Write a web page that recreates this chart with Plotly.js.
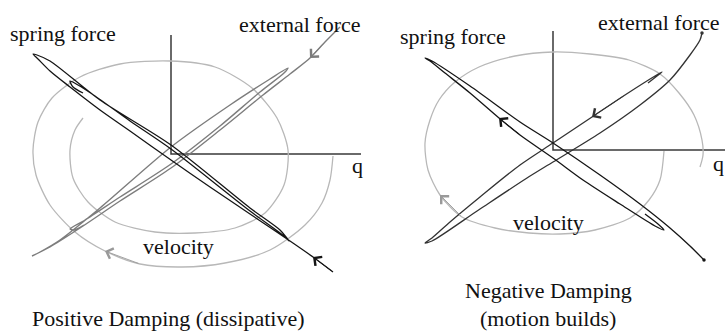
<!DOCTYPE html>
<html>
<head>
<meta charset="utf-8">
<script src="https://cdn.plot.ly/plotly-3.0.1.min.js"></script>
<style>
  html, body { margin: 0; padding: 0; background: #fff; }
  #chart { width: 725px; height: 332px; }
</style>
</head>
<body>
<div id="chart"></div>
<script>
// Phase-plane sketches of a forced oscillator. Units are measured from each
// panel's origin (q to the right, up is positive).

// ---- Positive damping (left panel) ----
// velocity: spiral that winds inward
const posVelocityQ = [162, 159, 151, 134, 99, 54, 11, -31, -66, -96, -121, -135, -138, -133, -119, -91, -51, -1, 44, 81, 106, 117, 113, 94, 64, 24, -16, -56, -83, -98, -101, -96, -88];
const posVelocityP = [-2, -26, -49, -71, -96, -109, -113, -110, -97, -78, -51, -21, 4, 32, 56, 77, 90, 93, 87, 66, 36, 4, -31, -59, -74, -79, -78, -68, -48, -24, 4, 24, 36];

// spring force: narrow loops along the falling diagonal
const posSpringQ = [162, 142, 119, 79, 39, 0, -41, -71, -101, -121, -133, -138, -134, -121, -71, 0, 79, 109, 118, 113, 79, 0, -41, -76, -93, -101, -98, -88];
const posSpringP = [-118, -103, -87, -60, -33, -6, 23, 44, 67, 83, 95, 100, 99, 93, 54, 9, -54, -76, -87, -82, -57, 5, 33, 58, 69, 73, 67, 61];

// external force: narrow loops along the rising diagonal
const posExternalQ = [169, 154, 139, 119, 92, 49, 0, -51, -91, -121, -139, -131, -111, -71, 0, 59, 99, 117, 113, 89, 49, 0, -51, -86, -101, -97, -87];
const posExternalP = [127, 112, 96, 80, 59, 24, -14, -47, -74, -93, -102, -98, -86, -54, 7, 49, 75, 86, 81, 62, 28, -10, -43, -66, -75, -76, -71];

// ---- Negative damping (right panel) ----
// velocity: spiral that winds outward
const negVelocityQ = [111, 107, 96, 77, 42, 7, -24, -58, -91, -113, -125, -128, -123, -114, -98, -74, -38, 0, 37, 76, 107, 126, 141, 149, 150, 147];
const negVelocityP = [-1, -30, -50, -68, -80, -84, -83, -78, -67, -45, -20, 7, 30, 50, 68, 83, 94, 98, 96, 90, 76, 57, 35, 10, -5, -17];

// spring force: loops growing along the falling diagonal
const negSpringQ = [92, 105, 111, 102, 67, 30, 0, -33, -54, -83, -108, -123, -128, -121, -83, -33, 0, 47, 87, 117, 137, 151];
const negSpringP = [-64, -74, -80, -76, -54, -30, -8, 15, 32, 57, 77, 89, 92, 89, 64, 28, 7, -25, -54, -78, -96, -110];

// external force: loops growing along the rising diagonal
const negExternalQ = [95, 104, 109, 102, 72, 39, 0, -33, -73, -103, -121, -128, -121, -73, -26, 0, 47, 87, 117, 137, 147, 149];
const negExternalP = [67, 74, 78, 74, 55, 33, 7, -15, -47, -72, -88, -93, -91, -59, -28, -12, 17, 45, 70, 95, 110, 117];

// coordinate axes drawn from each origin
const posAxisQ = [190, 0, 0];
const posAxisP = [0, 0, 119];
const negAxisQ = [172, 0, 0];
const negAxisP = [0, 0, 119];

// text
const curveLabels = ['spring force', 'external force', 'velocity', 'q'];
const panelTitles = ['Positive Damping (dissipative)', 'Negative Damping', '(motion builds)'];

const INK = '#151515';
const EXT_GRAY = '#7d7d7d';
const VEL_GRAY = '#b8b8b8';
const AXIS_INK = '#3a3a3a';

function curve(q, p, color, width, panel) {
  return {
    type: 'scatter', mode: 'lines',
    x: q, y: p,
    xaxis: panel === 2 ? 'x2' : 'x', yaxis: panel === 2 ? 'y2' : 'y',
    line: { color: color, width: width, shape: 'spline', smoothing: 0.8 }
  };
}
function axisLines(q, p, panel) {
  return {
    type: 'scatter', mode: 'lines', x: q, y: p,
    xaxis: panel === 2 ? 'x2' : 'x', yaxis: panel === 2 ? 'y2' : 'y',
    line: { color: AXIS_INK, width: 1.5 }
  };
}
function endDot(q, p, color) {
  return {
    type: 'scatter', mode: 'markers',
    x: [q[q.length - 1]], y: [p[p.length - 1]],
    xaxis: 'x2', yaxis: 'y2',
    marker: { color: color, size: 3.5 }
  };
}
// direction arrowhead placed on point i of a curve, pointing along the motion
function arrowOn(q, p, i, color, panel) {
  const xr = panel === 2 ? 'x2' : 'x', yr = panel === 2 ? 'y2' : 'y';
  return {
    x: q[i], y: p[i], ax: q[i - 1], ay: p[i - 1],
    xref: xr, yref: yr, axref: xr, ayref: yr,
    text: '', showarrow: true, arrowhead: 4, arrowsize: 2.4, arrowwidth: 0.9,
    arrowcolor: color, standoff: 0, startstandoff: 0
  };
}
// text placed by pixel position on the page
function label(text, px, py, size) {
  return {
    text: text, x: px / 725, y: 1 - py / 332, xref: 'paper', yref: 'paper',
    xanchor: 'center', yanchor: 'middle', showarrow: false,
    font: { family: 'Liberation Serif', size: size, color: '#111' }
  };
}

const data = [
  axisLines(posAxisQ, posAxisP, 1),
  curve(posVelocityQ, posVelocityP, VEL_GRAY, 1.3, 1),
  curve(posExternalQ, posExternalP, EXT_GRAY, 1.4, 1),
  curve(posSpringQ, posSpringP, INK, 1.3, 1),
  axisLines(negAxisQ, negAxisP, 2),
  curve(negVelocityQ, negVelocityP, VEL_GRAY, 1.3, 2),
  curve(negExternalQ, negExternalP, '#333', 1.3, 2),
  curve(negSpringQ, negSpringP, INK, 1.3, 2),
  endDot(negExternalQ, negExternalP, '#333'),
  endDot(negSpringQ, negSpringP, INK)
];

const annotations = [
  label(curveLabels[0], 63, 33, 22),
  label(curveLabels[1], 300, 24, 22),
  label(curveLabels[2], 178, 246, 22),
  label(curveLabels[3], 357, 165, 22),
  label(curveLabels[0], 453, 36, 22),
  label(curveLabels[1], 659, 22, 22),
  label(curveLabels[2], 548, 222, 22),
  label(curveLabels[3], 718, 163, 22),
  label(panelTitles[0], 168, 318, 22),
  label(panelTitles[1], 548, 290, 22),
  label(panelTitles[2], 548, 318, 22),

  arrowOn(posSpringQ, posSpringP, 1, INK, 1),
  arrowOn(posExternalQ, posExternalP, 2, EXT_GRAY, 1),
  arrowOn(posVelocityQ, posVelocityP, 8, '#999', 1),
  arrowOn(negSpringQ, negSpringP, 8, INK, 2),
  arrowOn(negExternalQ, negExternalP, 5, '#333', 2),
  arrowOn(negVelocityQ, negVelocityP, 9, '#999', 2)
];

const layout = {
  width: 725, height: 332,
  margin: { l: 0, r: 0, t: 0, b: 0 },
  font: { family: 'Liberation Serif' },
  showlegend: false,
  xaxis: { visible: false, domain: [0, 0.5], range: [-171, 191.5] },
  yaxis: { visible: false, domain: [0, 1], range: [-178, 154] },
  xaxis2: { visible: false, domain: [0.5, 1], range: [-190.5, 172], anchor: 'y2' },
  yaxis2: { visible: false, domain: [0, 1], range: [-182, 150], anchor: 'x2' },
  annotations: annotations
};

Plotly.newPlot('chart', data, layout, { staticPlot: true, displayModeBar: false });
</script>
</body>
</html>
